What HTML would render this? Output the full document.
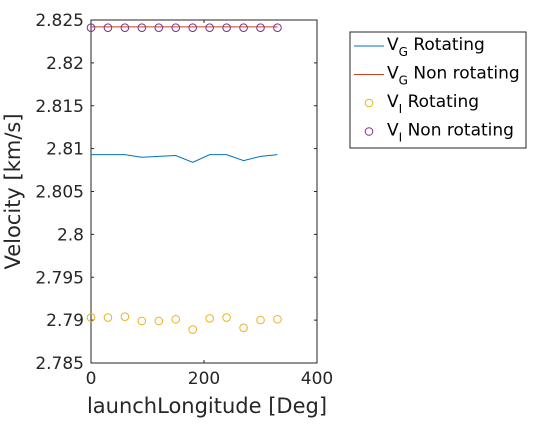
<!DOCTYPE html>
<html><head><meta charset="utf-8"><style>
body{margin:0;background:#fff;font-family:"Liberation Sans","DejaVu Sans",sans-serif;}
</style></head><body>
<svg width="560" height="420" id="c" font-family="DejaVu Sans, Liberation Sans, sans-serif"></svg>
<script>
const xs=[0,30,60,90,120,150,180,210,240,270,300,330];
const vgRot=[2.8093,2.8093,2.8093,2.8090,2.8091,2.8092,2.8084,2.8093,2.8093,2.8086,2.8091,2.8093];
const vgNon=[2.8242,2.8242,2.8242,2.8242,2.8242,2.8242,2.8242,2.8242,2.8242,2.8242,2.8242,2.8242];
const viRot=[2.7903,2.7903,2.7904,2.7899,2.7899,2.7901,2.7889,2.7902,2.7903,2.7891,2.7900,2.7901];
const viNon=[2.8241,2.8241,2.8241,2.8241,2.8241,2.8241,2.8241,2.8241,2.8241,2.8241,2.8241,2.8241];
const xTicks=[0,200,400];
const yTicks=[2.785,2.79,2.795,2.8,2.805,2.81,2.815,2.82,2.825];
const L=91,R=317,T=20,B=363;
const X=v=>L+(v-0)/400*(R-L);
const Y=v=>B-(v-2.785)/0.04*(B-T);
const s=document.getElementById('c');
const NS='http://www.w3.org/2000/svg';
function mk(t,a,p){const e=document.createElementNS(NS,t);for(const k in a)e.setAttribute(k,a[k]);(p||s).appendChild(e);return e;}
let e=mk('rect',{x:L,y:T,width:R-L,height:B-T,fill:'#fff',stroke:'#262626','stroke-width':1});

xTicks.forEach(t=>{mk('line',{x1:X(t),x2:X(t),y1:B,y2:B-3,stroke:'#262626'});mk('line',{x1:X(t),x2:X(t),y1:T,y2:T+3,stroke:'#262626'});
 const tx=mk('text',{x:X(t),y:B+21,'text-anchor':'middle','font-size':17,fill:'#262626'});tx.textContent=t;
 });
yTicks.forEach(t=>{mk('line',{x1:L,x2:L+3,y1:Y(t),y2:Y(t),stroke:'#262626'});mk('line',{x1:R,x2:R-3,y1:Y(t),y2:Y(t),stroke:'#262626'});
 const tx=mk('text',{x:L-7,y:Y(t)+6,'text-anchor':'end','font-size':17,fill:'#262626'});tx.textContent=String(t);
 });
let xt=mk('text',{x:(L+R)/2+3,y:B+50,'text-anchor':'middle','font-size':21,fill:'#262626'});xt.textContent='launchLongitude [Deg]';

let yt=mk('text',{x:0,y:0,'text-anchor':'middle','font-size':21,fill:'#262626',transform:`translate(20,${(T+B)/2}) rotate(-90)`});yt.textContent='Velocity [km/s]';

function line(d,c,n){const p=mk('polyline',{points:xs.map((x,i)=>X(x)+','+Y(d[i])).join(' '),fill:'none',stroke:c,'stroke-width':1});
 }
function pts(d,c,n){xs.forEach((x,i)=>{const q=mk('circle',{cx:X(x),cy:Y(d[i]),r:3.8,fill:'none',stroke:c,'stroke-width':1});
 });}
line(vgRot,'#0072BD','vg-rotating-line');
line(vgNon,'#C8421A','vg-nonrotating-line');
pts(viRot,'#EDB120','vi-rotating-point');
pts(viNon,'#7E2F8E','vi-nonrotating-point');
const lg=mk('g',{});
mk('rect',{x:350,y:32,width:176,height:116,fill:'#fff',stroke:'#262626','stroke-width':1},lg);
const items=[['V','G',' Rotating','#0072BD',0],['V','G',' Non rotating','#C8421A',0],['V','I',' Rotating','#EDB120',1],['V','I',' Non rotating','#7E2F8E',1]];
items.forEach((it,i)=>{const yy=44+i*28.5;
 const g=mk('g',{},lg);
 if(it[4])mk('circle',{cx:369,cy:yy+2,r:3.8,fill:'none',stroke:it[3]},g);else mk('line',{x1:354,x2:384,y1:yy+2,y2:yy+2,stroke:it[3]},g);
 const t=mk('text',{x:387,y:yy+6,'font-size':17,fill:'#000'},g);
 const a=mk('tspan',{},t);a.textContent=it[0];
 const b=mk('tspan',{dy:6,'font-size':12},t);b.textContent=it[1];
 const c=mk('tspan',{dy:-6},t);c.textContent=it[2];});
</script>
</body></html>
